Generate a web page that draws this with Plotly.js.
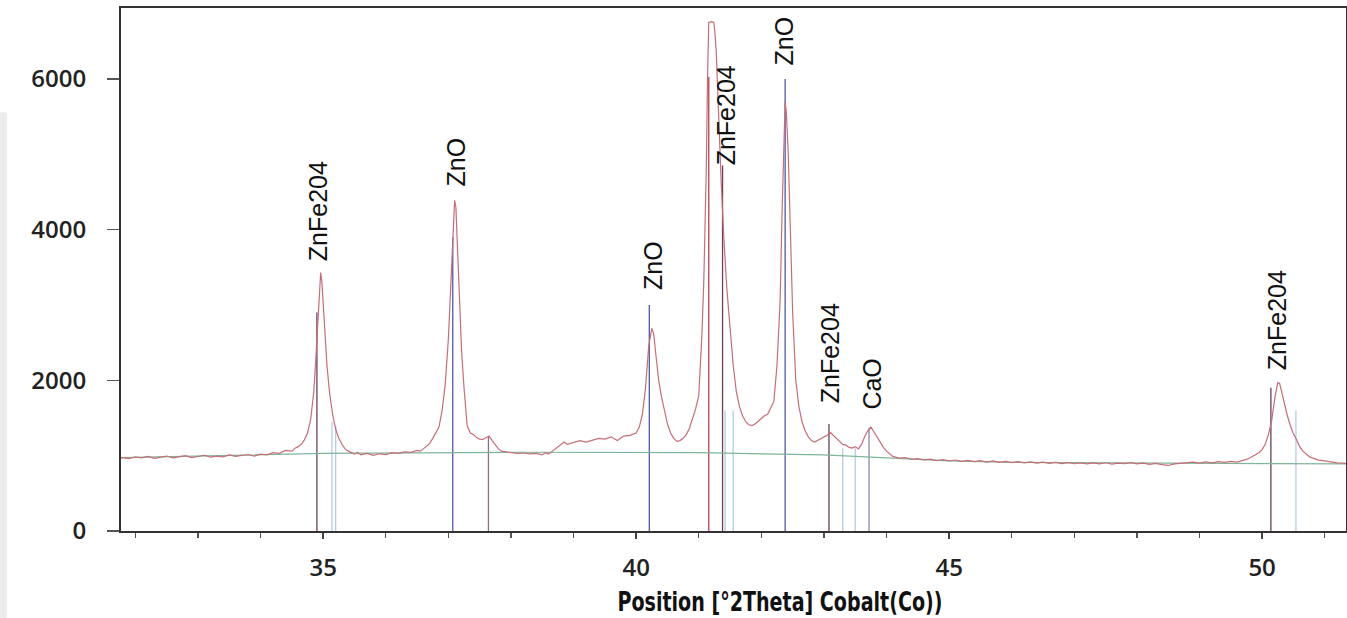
<!DOCTYPE html>
<html><head><meta charset="utf-8">
<script src="https://cdn.plot.ly/plotly-3.0.1.min.js"></script>
<style>html,body{margin:0;padding:0;background:#fff}#chart{width:1347px;height:618px}</style>
</head><body><div id="chart"></div>
<script>
// ---- measured pattern (2Theta, counts) ----
const twoTheta = [31.77,31.8,31.9,32.0,32.1,32.2,32.3,32.4,32.5,32.6,32.7,32.8,32.9,33.0,33.1,33.2,33.3,33.4,33.5,33.6,33.7,33.8,33.9,34.0,34.1,34.2,34.3,34.4,34.5,34.55,34.6,34.65,34.7,34.75,34.8,34.85,34.88,34.91,34.94,34.96,34.98,35.0,35.03,35.06,35.1,35.15,35.2,35.25,35.3,35.35,35.4,35.45,35.5,35.55,35.6,35.7,35.8,35.9,36.0,36.1,36.2,36.3,36.4,36.5,36.55,36.6,36.65,36.7,36.75,36.8,36.85,36.9,36.95,37.0,37.05,37.08,37.1,37.12,37.15,37.18,37.21,37.25,37.3,37.35,37.4,37.45,37.5,37.55,37.6,37.65,37.7,37.75,37.8,37.85,37.9,38.0,38.1,38.2,38.3,38.4,38.5,38.55,38.6,38.7,38.8,38.85,38.9,39.0,39.1,39.2,39.3,39.4,39.5,39.6,39.7,39.8,39.9,40.0,40.05,40.1,40.15,40.2,40.25,40.28,40.32,40.36,40.4,40.45,40.5,40.55,40.6,40.65,40.7,40.75,40.8,40.85,40.9,40.95,41.0,41.05,41.08,41.1,41.12,41.14,41.16,41.2,41.24,41.26,41.28,41.3,41.33,41.36,41.4,41.45,41.5,41.55,41.6,41.65,41.7,41.75,41.8,41.85,41.9,41.95,42.0,42.05,42.1,42.15,42.2,42.25,42.3,42.33,42.36,42.38,42.4,42.43,42.46,42.5,42.55,42.6,42.65,42.7,42.75,42.8,42.85,42.9,42.95,43.0,43.05,43.1,43.15,43.2,43.25,43.3,43.35,43.4,43.45,43.5,43.55,43.6,43.65,43.7,43.75,43.8,43.85,43.9,43.95,44.0,44.05,44.1,44.2,44.3,44.4,44.5,44.6,44.7,44.8,44.9,45.0,45.1,45.2,45.3,45.4,45.5,45.6,45.7,45.8,45.9,46.0,46.1,46.2,46.3,46.4,46.5,46.6,46.7,46.8,46.9,47.0,47.1,47.2,47.3,47.4,47.5,47.6,47.7,47.8,47.9,48.0,48.1,48.2,48.3,48.4,48.5,48.6,48.7,48.8,48.9,49.0,49.1,49.2,49.3,49.4,49.5,49.6,49.7,49.75,49.8,49.85,49.9,49.95,50.0,50.05,50.1,50.15,50.2,50.25,50.28,50.32,50.36,50.4,50.45,50.5,50.55,50.6,50.65,50.7,50.75,50.8,50.9,51.0,51.1,51.2,51.3,51.34];
const counts = [970,975,960,985,970,990,965,980,995,970,985,1000,975,990,1005,980,995,985,1010,990,1000,1015,995,1020,1010,1040,1030,1070,1060,1100,1120,1150,1210,1300,1480,1850,2250,2750,3250,3430,3300,3000,2600,2200,1850,1550,1350,1230,1150,1090,1060,1040,1020,1045,1010,1030,1005,1025,1015,1040,1030,1050,1045,1070,1060,1090,1120,1160,1230,1300,1380,1600,1950,2550,3500,4100,4390,4300,3700,3000,2400,1900,1400,1300,1280,1240,1220,1215,1240,1260,1200,1140,1090,1060,1050,1040,1030,1035,1025,1030,1010,1040,1020,1080,1150,1180,1150,1170,1200,1180,1210,1230,1220,1250,1200,1260,1270,1300,1380,1550,1900,2450,2690,2620,2300,2000,1800,1600,1420,1300,1230,1190,1200,1230,1280,1360,1480,1620,1800,2600,3300,3900,4800,6000,6750,6760,6750,6600,6350,5900,5200,4600,3900,3200,2700,2200,1850,1650,1530,1450,1410,1400,1420,1460,1500,1530,1550,1630,1720,2200,3050,4200,5300,5700,5550,5000,4100,2900,2000,1650,1450,1330,1250,1200,1180,1200,1230,1250,1270,1310,1270,1220,1180,1150,1140,1110,1100,1120,1090,1150,1250,1330,1380,1310,1240,1170,1110,1060,1020,990,968,975,952,960,945,955,935,948,930,942,925,938,920,935,915,930,912,925,908,920,905,918,900,915,898,912,895,908,893,905,890,903,892,906,889,902,894,907,890,900,885,898,880,870,890,900,905,915,902,918,905,922,910,925,915,935,950,970,990,1010,1040,1080,1150,1280,1450,1750,1970,1960,1820,1650,1540,1400,1290,1210,1120,1060,1020,990,970,940,930,915,905,900,895];
// ---- fitted background ----
const bgTheta = [31.77,35,38,41,43,44,45,46,48,51.34];
const bgCounts = [975,1030,1045,1040,1010,965,930,910,900,890];
// ---- reference pattern sticks ----
const stickTheta  = [34.90,35.14,35.20,37.07,37.64,40.21,41.16,41.38,41.42,41.55,42.38,43.08,43.30,43.50,43.72,50.14,50.54];
const stickCounts = [2900,1450,1400,3900,1250,3000,6030,4850,1600,1600,6000,1420,1100,1100,1370,1900,1600];
const stickPhase  = ['ZnFe2O4','minor','minor','ZnO','other','ZnO','ZnFe2O4r','ZnFe2O4','minor','minor','ZnO','ZnFe2O4','minor','minor','CaO','ZnFe2O4','minor'];
// ---- peak labels ----
const labelText   = ['ZnFe204','ZnO','ZnO','ZnFe204','ZnO','ZnFe204','CaO','ZnFe204'];
const labelTheta  = [34.92,37.12,40.26,41.44,42.36,43.10,43.77,50.24];
const labelCounts = [3557,4552,3172,4831,6158,1672,1580,2110];
const xTickVals = [35,40,45,50];
const yTickVals = [0,2000,4000,6000];

const phaseColor = {ZnFe2O4:'#6a4058', ZnFe2O4r:'#b8404e', ZnO:'#5058a8', CaO:'#8a8aa8', other:'#8a7080', minor:'#b4cde0'};
const traces = [];
Object.keys(phaseColor).forEach(function(ph){
  const xs=[], ys=[];
  stickTheta.forEach(function(t,i){ if(stickPhase[i]===ph){ xs.push(t,t,null); ys.push(0,stickCounts[i],null);} });
  if(xs.length) traces.push({x:xs,y:ys,mode:'lines',type:'scatter',line:{color:phaseColor[ph],width:1.3},hoverinfo:'skip'});
});
traces.push({x:bgTheta,y:bgCounts,mode:'lines',type:'scatter',line:{color:'#7fb59a',width:1.2},hoverinfo:'skip'});
traces.push({x:twoTheta,y:counts,mode:'lines',type:'scatter',line:{color:'#c66e78',width:1.2}});

const TITLE = 'Position [°2Theta] Cobalt(Co))';
const annotations = labelText.map(function(t,i){
  return {x:labelTheta[i],y:labelCounts[i],xref:'x',yref:'y',text:t,textangle:-90,showarrow:false,
    xanchor:'center',yanchor:'bottom',font:{family:'Liberation Sans, Arial, sans-serif',size:25,color:'#111'}};
});
annotations.push({xref:'paper',yref:'paper',x:0.538,y:-0.134,xanchor:'center',yanchor:'middle',showarrow:false,
  text:TITLE,font:{family:'DejaVu Sans, sans-serif',size:27,color:'#111',weight:700}});

const layout = {
  width:1347,height:618,margin:{l:121,r:1,t:8,b:87},
  paper_bgcolor:'#fff',plot_bgcolor:'#fff',showlegend:false,
  shapes:[{type:'rect',xref:'paper',yref:'paper',x0:-0.0988,x1:-0.0931,y0:-0.1663,y1:0.80,
    fillcolor:'#ececec',line:{width:0},layer:'below'}],
  xaxis:{range:[31.77,51.34],tickvals:xTickVals,ticks:'outside',ticklen:6,tickwidth:1.5,tickcolor:'#444',
    showgrid:false,zeroline:false,showline:true,linecolor:'#333',linewidth:2,mirror:true,
    minor:{dtick:1,tick0:0,ticks:'outside',ticklen:5,tickwidth:1.2,tickcolor:'#555',showgrid:false},
    tickfont:{family:'Open Sans, sans-serif',size:24,color:'#222',weight:600},ticklabelstandoff:8},
  yaxis:{range:[0,6942],tickvals:yTickVals,ticks:'outside',ticklen:12,tickwidth:1.5,tickcolor:'#555',
    showgrid:false,zeroline:false,showline:true,linecolor:'#333',linewidth:2,mirror:true,
    tickfont:{family:'Open Sans, sans-serif',size:24,color:'#222',weight:600},ticklabelstandoff:16},
  annotations:annotations
};
Plotly.newPlot('chart',traces,layout,{staticPlot:true}).then(function(){
  document.querySelectorAll('.annotation-text').forEach(function(el){
    if(el.textContent===TITLE){ el.setAttribute('textLength','325'); el.setAttribute('lengthAdjust','spacingAndGlyphs'); }
  });
});
</script></body></html>
